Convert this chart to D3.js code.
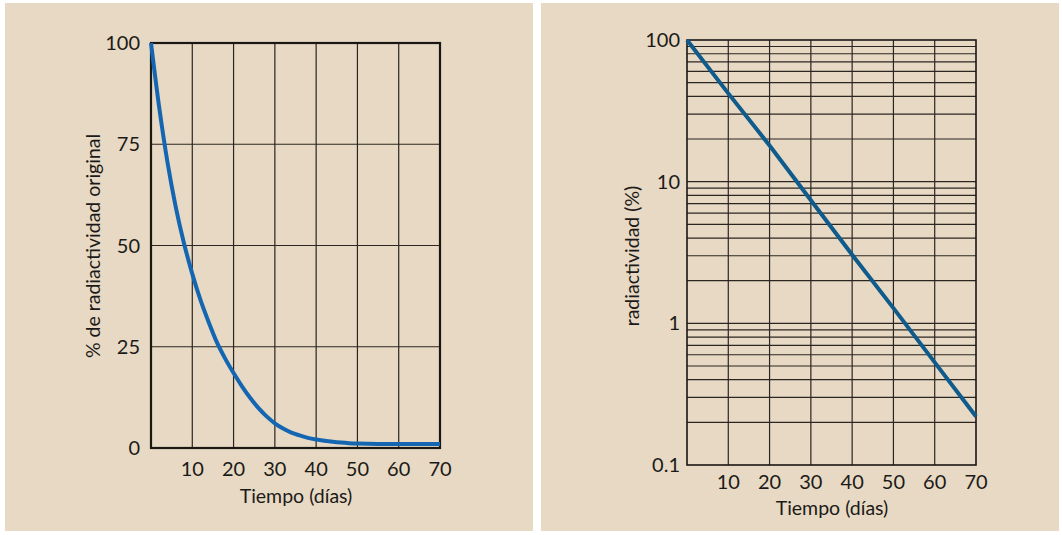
<!DOCTYPE html>
<html>
<head>
<meta charset="utf-8">
<script src="https://cdn.jsdelivr.net/npm/d3@7"></script>
<style>
  html, body { margin: 0; padding: 0; background: #fff; }
  svg { display: block; }
  text { font-family: Lato, "Open Sans", sans-serif; fill: #1c1a18; }
</style>
</head>
<body>
<div id="chart"></div>
<script>
// x ticks shared by both panels (days)
const dayTicks = [10, 20, 30, 40, 50, 60, 70];
const linTicks = [0, 25, 50, 75, 100];
const logTicks = [0.1, 1, 10, 100];

// left panel: % of original radioactivity, linear axis
const linDays = [0, 2, 4, 6, 8, 10, 12, 14, 16, 18, 20, 22, 24, 26, 28, 30, 32, 34, 36, 38, 40, 42, 44, 46, 48, 50, 55, 60, 65, 70];
const linPct = [100, 84, 70.5, 59.5, 50.5, 43, 36.5, 31, 26, 22, 18.5, 15.3, 12.4, 9.9, 7.8, 6.1, 4.8, 3.8, 3.1, 2.5, 2.1, 1.8, 1.55, 1.35, 1.2, 1.1, 1, 1, 1, 1];

// right panel: same decay on a log axis
const logDays = [0, 10, 20, 30, 40, 50, 60, 70];
const logPct = [100, 42, 18, 7.4, 3.05, 1.28, 0.53, 0.22];

const W = 1062, H = 535;
const svg = d3.select('#chart').append('svg')
  .attr('width', W)
  .attr('height', H);

// beige panels
svg.append('rect').attr('x', 5).attr('y', 3).attr('width', 528).attr('height', 528).attr('fill', '#e7d9c3');
svg.append('rect').attr('x', 541).attr('y', 3).attr('width', 518).attr('height', 528).attr('fill', '#e7d9c3');

const gridColor = '#2b2622';

// ---------- left chart ----------
const xL = d3.scaleLinear().domain([0, 70]).range([151, 440]);
const yL = d3.scaleLinear().domain([0, 100]).range([448, 43]);
const gL = svg.append('g');

gL.selectAll('.vgrid')
  .data(dayTicks.slice(0, -1))
  .enter()
  .append('line')
  .attr('x1', d => xL(d)).attr('x2', d => xL(d))
  .attr('y1', yL(0)).attr('y2', yL(100))
  .attr('stroke', gridColor).attr('stroke-width', 1.2);

gL.selectAll('.hgrid')
  .data([25, 50, 75])
  .enter()
  .append('line')
  .attr('x1', xL(0)).attr('x2', xL(70))
  .attr('y1', d => yL(d)).attr('y2', d => yL(d))
  .attr('stroke', gridColor).attr('stroke-width', 1.2);

gL.append('rect')
  .attr('x', xL(0)).attr('y', yL(100))
  .attr('width', xL(70) - xL(0)).attr('height', yL(0) - yL(100))
  .attr('fill', 'none').attr('stroke', '#1a1714').attr('stroke-width', 2.2);

gL.append('path')
  .datum(linDays.map((d, i) => [d, linPct[i]]))
  .attr('fill', 'none')
  .attr('stroke', '#1466b3')
  .attr('stroke-width', 4)
  .attr('d', d3.line().x(d => xL(d[0])).y(d => yL(d[1])).curve(d3.curveMonotoneX));

gL.selectAll('.ylab')
  .data(linTicks)
  .enter()
  .append('text')
  .attr('x', 140).attr('y', d => yL(d) + 7)
  .attr('text-anchor', 'end')
  .attr('font-size', 20)
  .text(d => d);

gL.selectAll('.xlab')
  .data(dayTicks)
  .enter()
  .append('text')
  .attr('x', d => xL(d)).attr('y', 476)
  .attr('text-anchor', 'middle')
  .attr('font-size', 20)
  .text(d => d);

gL.append('text')
  .attr('x', 296).attr('y', 503)
  .attr('text-anchor', 'middle')
  .attr('font-size', 19.5)
  .text('Tiempo (días)');

gL.append('text')
  .attr('transform', 'translate(100,246) rotate(-90)')
  .attr('text-anchor', 'middle')
  .attr('font-size', 19.5)
  .text('% de radiactividad original');

// ---------- right chart ----------
const xR = d3.scaleLinear().domain([0, 70]).range([687, 976]);
const yR = d3.scaleLog().domain([0.1, 100]).range([465, 40]);
const gR = svg.append('g');

// minor log lines 0.2..0.9, 2..9, 20..90 plus decades
const logLines = yR.ticks().filter(d => d > 0.1 && d < 100);

gR.selectAll('.hgrid')
  .data(logLines)
  .enter()
  .append('line')
  .attr('x1', xR(0)).attr('x2', xR(70))
  .attr('y1', d => yR(d)).attr('y2', d => yR(d))
  .attr('stroke', gridColor).attr('stroke-width', 1.2);

gR.selectAll('.vgrid')
  .data(dayTicks.slice(0, -1))
  .enter()
  .append('line')
  .attr('x1', d => xR(d)).attr('x2', d => xR(d))
  .attr('y1', yR(0.1)).attr('y2', yR(100))
  .attr('stroke', gridColor).attr('stroke-width', 1.2);

gR.append('rect')
  .attr('x', xR(0)).attr('y', yR(100))
  .attr('width', xR(70) - xR(0)).attr('height', yR(0.1) - yR(100))
  .attr('fill', 'none').attr('stroke', '#1a1714').attr('stroke-width', 1.6);

gR.append('path')
  .datum(logDays.map((d, i) => [d, logPct[i]]))
  .attr('fill', 'none')
  .attr('stroke', '#0f5b8c')
  .attr('stroke-width', 4)
  .attr('d', d3.line().x(d => xR(d[0])).y(d => yR(d[1])));

gR.selectAll('.ylab')
  .data(logTicks)
  .enter()
  .append('text')
  .attr('x', 680).attr('y', d => yR(d) + 7)
  .attr('text-anchor', 'end')
  .attr('font-size', 20)
  .text(d => d);

gR.selectAll('.xlab')
  .data(dayTicks)
  .enter()
  .append('text')
  .attr('x', d => xR(d)).attr('y', 489)
  .attr('text-anchor', 'middle')
  .attr('font-size', 20)
  .text(d => d);

gR.append('text')
  .attr('x', 832).attr('y', 515)
  .attr('text-anchor', 'middle')
  .attr('font-size', 19.5)
  .text('Tiempo (días)');

gR.append('text')
  .attr('transform', 'translate(639,256) rotate(-90)')
  .attr('text-anchor', 'middle')
  .attr('font-size', 19.5)
  .text('radiactividad (%)');
</script>
</body>
</html>
